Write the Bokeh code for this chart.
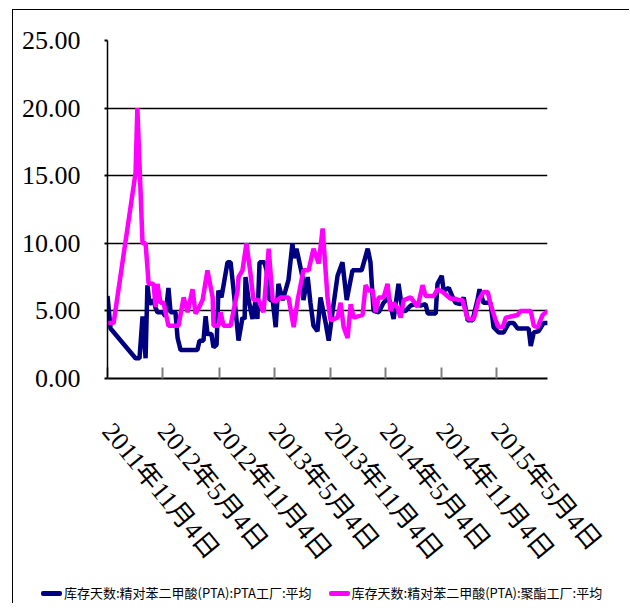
import pandas as pd
from bokeh.plotting import figure
from bokeh.layouts import column
from bokeh.models import Range1d, FixedTicker, ColumnDataSource, Div
from bokeh.embed import file_html
from bokeh.resources import INLINE

# ---------------- data ----------------
start_date = "2011-11-04"
end_date = "2015-10-18"

tick_dates = ["2011-11-04", "2012-05-04", "2012-11-04", "2013-05-04",
              "2013-11-04", "2014-05-04", "2014-11-04", "2015-05-04"]
tick_labels = ["2011年11月4日", "2012年5月4日", "2012年11月4日", "2013年5月4日",
               "2013年11月4日", "2014年5月4日", "2014年11月4日", "2015年5月4日"]

y_ticks = [0, 5, 10, 15, 20, 25]
y_tick_labels = ["0.00", "5.00", "10.00", "15.00", "20.00", "25.00"]

pta_name = "库存天数:精对苯二甲酸(PTA):PTA工厂:平均"
poly_name = "库存天数:精对苯二甲酸(PTA):聚酯工厂:平均"

# days after start_date
pta_days = [0, 10, 92, 105, 115, 125, 131, 138, 151, 158,
            164, 181, 190, 200, 207, 223, 230, 240, 295, 302,
            315, 322, 328, 341, 348, 358, 364, 374, 394, 404,
            414, 430, 443, 450, 453, 463, 476, 486, 492, 499,
            515, 522, 532, 542, 552, 561, 575, 584, 594, 607,
            611, 620, 627, 640, 643, 657, 666, 676, 689, 699,
            716, 726, 742, 755, 771, 785, 804, 834, 854, 863,
            873, 890, 906, 923, 939, 955, 968, 978, 995, 1011,
            1028, 1044, 1051, 1077, 1083, 1097, 1103, 1120, 1133, 1142,
            1159, 1169, 1182, 1198, 1215, 1221, 1234, 1257, 1267, 1284,
            1300, 1317, 1333, 1346, 1382, 1389, 1399, 1415, 1431, 1445]
pta_values = [6.1, 3.7, 1.5, 1.5, 4.6, 1.5, 6.9, 5.5, 5.8, 5.2,
              4.9, 4.9, 4.6, 6.7, 4.9, 4.9, 3.0, 2.1, 2.1, 2.8,
              2.8, 4.6, 3.3, 3.3, 2.3, 2.5, 6.5, 6.0, 8.6, 8.6,
              6.5, 2.8, 4.5, 4.4, 7.5, 5.8, 4.4, 5.8, 4.4, 8.6,
              8.6, 8.0, 5.8, 5.8, 3.8, 7.0, 5.8, 6.5, 7.3, 10.0,
              8.9, 9.6, 8.9, 7.5, 5.8, 7.5, 5.6, 3.9, 3.5, 6.0,
              4.1, 2.8, 5.5, 7.6, 8.6, 5.8, 8.0, 8.0, 9.6, 8.6,
              5.0, 4.9, 5.6, 6.0, 4.4, 7.0, 5.0, 5.0, 5.4, 5.5,
              5.4, 5.5, 4.8, 4.8, 7.0, 7.6, 6.5, 6.7, 6.0, 5.6,
              5.5, 6.0, 4.3, 4.3, 5.9, 6.6, 5.6, 5.6, 3.8, 3.4,
              3.4, 4.1, 4.1, 3.7, 3.7, 2.4, 3.4, 3.5, 4.1, 4.1]

poly_days = [0, 20, 92, 98, 115, 125, 135, 151, 158, 164,
             174, 184, 200, 233, 250, 263, 279, 289, 299, 312,
             328, 345, 348, 364, 371, 381, 404, 427, 430, 443,
             456, 469, 479, 496, 512, 529, 542, 552, 568, 594,
             611, 624, 643, 660, 676, 693, 706, 722, 732, 755,
             765, 775, 788, 798, 808, 837, 847, 857, 870, 880,
             890, 906, 919, 929, 939, 952, 962, 972, 995, 1018,
             1034, 1044, 1070, 1083, 1100, 1126, 1142, 1152, 1165, 1182,
             1202, 1218, 1234, 1248, 1257, 1274, 1284, 1297, 1307, 1346,
             1356, 1389, 1399, 1412, 1428, 1445]
poly_values = [4.1, 4.1, 15.2, 20.0, 10.0, 10.0, 7.0, 7.0, 5.3, 7.0,
               5.6, 5.6, 3.9, 3.9, 6.0, 4.9, 6.6, 4.8, 5.2, 5.8,
               8.0, 6.0, 3.9, 3.9, 4.9, 3.9, 3.9, 6.5, 7.5, 8.0,
               10.0, 7.8, 5.8, 5.8, 4.9, 9.6, 5.8, 5.7, 6.0, 6.0,
               3.8, 5.8, 8.0, 8.0, 9.6, 8.5, 11.1, 6.0, 4.3, 4.5,
               5.6, 3.8, 3.0, 5.5, 4.5, 4.7, 6.9, 6.5, 6.5, 4.9,
               6.0, 6.0, 7.0, 5.0, 5.6, 5.2, 4.5, 5.8, 6.0, 5.3,
               6.9, 6.1, 6.1, 6.6, 6.4, 5.9, 5.9, 5.8, 5.8, 4.4,
               4.4, 5.8, 6.4, 6.4, 5.5, 4.3, 3.8, 3.8, 4.5, 4.7,
               5.0, 5.0, 3.9, 3.8, 4.7, 5.0]

# ---------------- build ----------------
base = pd.Timestamp(start_date)
pta_src = ColumnDataSource(dict(x=base + pd.to_timedelta(pta_days, unit="D"), y=pta_values))
poly_src = ColumnDataSource(dict(x=base + pd.to_timedelta(poly_days, unit="D"), y=poly_values))

def ms(d):
    return pd.Timestamp(d).value / 1e6

FRAME_W, FRAME_H = 440, 338
LEFT, TOP, BOTTOM = 94, 30, 203
W = 616
H = TOP + FRAME_H + BOTTOM

PTA_COLOR, POLY_COLOR, LW = "#000080", "#FF00FF", 4.5

p = figure(width=W, height=H, x_axis_type="datetime",
           output_backend="svg", toolbar_location=None,
           x_range=Range1d(ms(start_date), ms(end_date)),
           y_range=Range1d(0, 25),
           min_border_left=LEFT, min_border_top=TOP,
           min_border_right=W - LEFT - FRAME_W, min_border_bottom=BOTTOM)
p.outline_line_color = None
p.background_fill_color = "white"
p.border_fill_color = "white"

serif = "Liberation Serif, Noto Sans CJK SC"

# y axis
p.yaxis.ticker = FixedTicker(ticks=y_ticks)
p.yaxis.major_label_overrides = {t: l for t, l in zip(y_ticks, y_tick_labels)}
p.yaxis.major_label_text_font = serif
p.yaxis.major_label_text_font_size = "26px"
p.yaxis.major_label_text_color = "black"
p.yaxis.major_label_standoff = 24
p.yaxis.axis_line_color = "black"
p.yaxis.axis_line_width = 1.5
p.yaxis.major_tick_out = 3
p.yaxis.major_tick_in = 0
p.yaxis.major_tick_line_color = "black"
p.yaxis.major_tick_line_width = 2
p.yaxis.minor_tick_line_color = None

p.ygrid.grid_line_color = "black"
p.ygrid.grid_line_width = 1.5
p.xgrid.visible = False

# x axis
xt = [ms(d) for d in tick_dates]
p.xaxis.ticker = FixedTicker(ticks=xt)
p.xaxis.major_label_overrides = {t: l for t, l in zip(xt, tick_labels)}
p.xaxis.major_label_orientation = -0.88
p.xaxis.major_label_text_font = serif
p.xaxis.major_label_text_font_size = "26px"
p.xaxis.major_label_text_color = "black"
p.xaxis.major_label_standoff = 48
p.xaxis.axis_line_color = "black"
p.xaxis.axis_line_width = 2
p.xaxis.major_tick_in = 11
p.xaxis.major_tick_out = 0
p.xaxis.major_tick_line_color = "#808080"
p.xaxis.major_tick_line_width = 2
p.xaxis.minor_tick_line_color = None

p.line("x", "y", source=pta_src, line_color=PTA_COLOR, line_width=LW)
p.line("x", "y", source=poly_src, line_color=POLY_COLOR, line_width=LW)

# ---- legend strip below the chart ----
def legend_entry(color, name, gap):
    return (f'<span style="display:inline-block;width:21px;height:5px;border-radius:2px;'
            f'background:{color};vertical-align:middle;margin-left:{gap}px;margin-right:2px"></span>'
            f'<span style="vertical-align:middle">{name}</span>')

legend_html = (legend_entry(PTA_COLOR, pta_name, 0) + legend_entry(POLY_COLOR, poly_name, 17))
legend_div = Div(text=legend_html, width=W, height=22, margin=0,
                 styles={"font-family": "Noto Sans CJK SC", "font-size": "13px",
                         "color": "black", "white-space": "nowrap", "overflow": "hidden",
                         "line-height": "22px", "padding-left": "28px",
                         "box-sizing": "border-box", "background": "white"})

layout = column(p, legend_div, spacing=0)
layout.styles = {"margin-left": "12px", "margin-top": "9px",
                 "border-left": "1.5px solid black", "border-top": "1.5px solid black"}

open("out.html", "w").write(file_html(layout, INLINE))
